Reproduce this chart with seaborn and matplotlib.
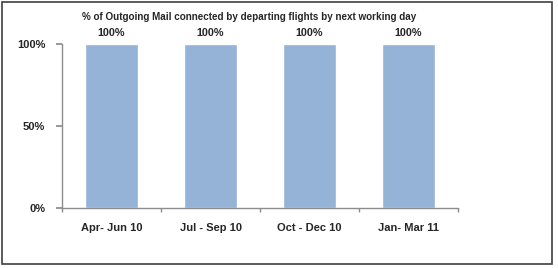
import matplotlib
matplotlib.use("Agg")
import matplotlib.pyplot as plt
import seaborn as sns
import pandas as pd
from matplotlib.patches import Rectangle
from matplotlib.ticker import FixedLocator

categories = ["Apr- Jun 10", "Jul - Sep 10", "Oct - Dec 10", "Jan- Mar 11"]
values = [100, 100, 100, 100]
title = "% of Outgoing Mail connected by departing flights by next working day"

sns.set_theme(style="white")
plt.rcParams['font.family'] = ['Liberation Sans', 'DejaVu Sans']

df = pd.DataFrame({"cat": categories, "val": values})

fig = plt.figure(figsize=(5.58, 2.68), dpi=100)
ax = fig.add_axes([62/558, 1-208/268, 396/558, 164/268])
sns.barplot(data=df, x="cat", y="val", color="#95B3D7", saturation=1, width=0.53, ax=ax)

ax.set_xlim(-0.5, len(categories)-0.5)
ax.set_ylim(0, 100)
ax.set_yticks([0, 50, 100])
ax.set_yticklabels(["0%", "50%", "100%"])
ax.set_xlabel("")
ax.set_ylabel("")
for s in ["top", "right"]:
    ax.spines[s].set_visible(False)
for s in ["left", "bottom"]:
    ax.spines[s].set_color("#8c8c8c")
    ax.spines[s].set_linewidth(1.0)

ax.tick_params(axis="y", which="major", direction="out", length=4, color="#8c8c8c",
               left=True, labelsize=8, pad=8)
ax.tick_params(axis="x", which="major", length=0, labelsize=8, pad=11)
ax.xaxis.set_minor_locator(FixedLocator([i - 0.5 for i in range(len(categories)+1)]))
ax.tick_params(axis="x", which="minor", direction="out", length=3, color="#8c8c8c", bottom=True)
for lab in ax.get_xticklabels() + ax.get_yticklabels():
    lab.set_fontweight("bold")

for i, v in enumerate(values):
    ax.annotate(f"{v}%", (i, v), xytext=(0, 4), textcoords="offset points",
                ha="center", va="bottom", fontsize=7.8, fontweight="bold", annotation_clip=False)

fig.text(249/558, 1-17/268, title, ha="center", va="center", fontsize=7.1, fontweight="bold")

fig.patches.append(Rectangle((2/558, 1-264/268), 550/558, 262/268, transform=fig.transFigure,
                             fill=False, edgecolor="#404040", linewidth=1.2))

fig.savefig("out.png", dpi=100)
